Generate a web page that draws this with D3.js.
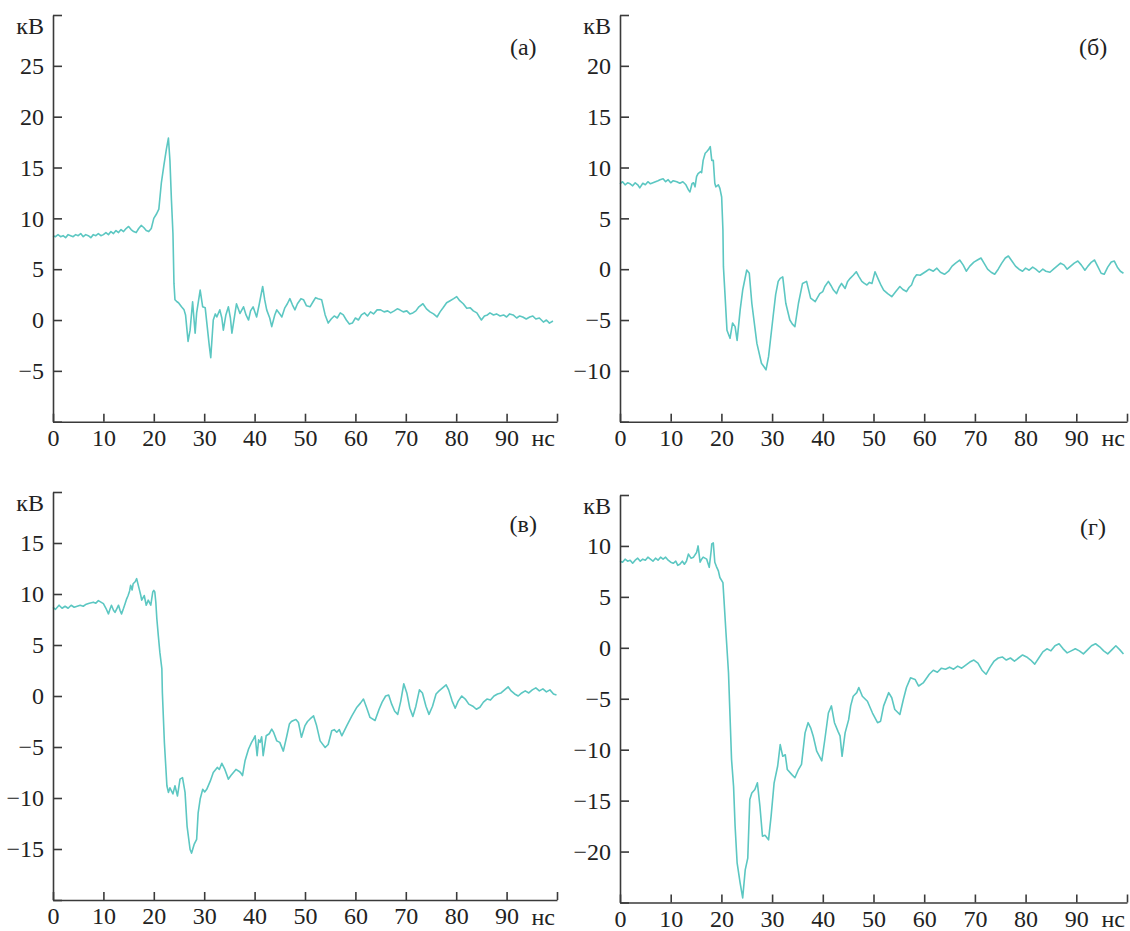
<!DOCTYPE html>
<html>
<head>
<meta charset="utf-8">
<script src="https://cdn.jsdelivr.net/npm/d3@7"></script>
<style>
  body { margin: 0; background: #fff; }
  svg { display: block; }
  text { font-family: "Liberation Serif", "Times New Roman", serif; fill: #222; }
</style>
</head>
<body>
<svg id="chart" width="1130" height="931"></svg>
<script>
// ---------------- DATA ----------------
const xTicks = [0, 10, 20, 30, 40, 50, 60, 70, 80, 90, 100];
const xUnit = "нс";
const yUnit = "кВ";
const panelLabels = ["(а)", "(б)", "(в)", "(г)"];

const yTicksA = [-10, -5, 0, 5, 10, 15, 20, 25, 30];
const yTicksB = [-15, -10, -5, 0, 5, 10, 15, 20, 25];
const yTicksC = [-20, -15, -10, -5, 0, 5, 10, 15, 20];
const yTicksD = [-25, -20, -15, -10, -5, 0, 5, 10, 15];

const tA = [0,0.5,1,1.5,2,2.5,3,3.5,4,4.5,5,5.5,6,6.5,7,7.5,8,8.5,9,9.5,10,10.5,11,11.5,12,12.5,13,13.5,14,14.5,15,15.5,16,16.5,17,17.5,18,18.5,19,19.5,20,20.5,21,21.5,22,22.5,22.9,23.2,23.5,23.8,24,24.2,24.6,24.9,25.5,26,26.3,26.8,27.2,27.7,28.2,28.5,29.2,29.7,30.2,30.6,31,31.3,31.8,32.2,32.5,33.1,33.5,33.8,34.3,34.8,35.2,35.5,36,36.4,37.1,37.8,38.3,38.8,39.2,39.7,40.4,40.9,41.6,42,42.4,43,43.4,44,44.4,45,45.4,46,46.5,47,47.5,48,48.5,49.2,49.7,50.3,51,51.6,52.1,52.6,53.3,54,54.6,55.2,55.8,56.4,57,57.6,58.2,58.8,59.4,60,60.6,61.2,61.8,62.4,63,63.6,64.3,65,65.7,66.4,67,67.7,68.3,68.8,69.5,70.2,70.8,71.4,72,72.6,73.4,74.1,74.8,75.5,76.2,76.8,77.4,78.1,78.8,79.5,80.1,80.7,81.4,82.1,82.8,83.4,84.1,84.6,85,85.6,86.2,86.7,87.4,88,88.7,89.4,90,90.6,91.3,92,92.6,93.2,93.9,94.6,95.2,95.8,96.5,97.3,97.9,98.5,99.2];
const vA = [8.3,8.2,8.4,8.2,8.3,8.1,8.4,8.3,8.2,8.4,8.3,8.5,8.2,8.4,8.3,8.1,8.4,8.3,8.5,8.3,8.4,8.6,8.4,8.7,8.5,8.8,8.6,8.9,8.7,9.0,9.2,8.9,8.7,8.6,9.0,9.3,9.1,8.8,8.7,9.0,10.0,10.4,10.9,13.5,15.2,16.8,17.9,15.7,11.8,8.5,3.6,2.0,1.8,1.7,1.3,1.0,0.5,-2.1,-1.0,1.8,-1.3,0.7,2.95,1.3,1.2,-0.65,-2.5,-3.7,0.0,0.6,0.3,1.0,0.2,-1.0,0.5,1.3,0.2,-1.3,0.3,1.6,0.65,1.3,0.5,0.0,0.9,1.3,0.3,1.5,3.3,2.0,1.0,0.2,-0.65,0.5,1.0,0.6,0.3,1.2,1.6,2.1,1.5,1.0,1.6,2.1,2.0,1.4,1.3,1.8,2.2,2.1,2.0,0.5,-0.3,0.1,0.4,0.2,0.7,0.5,0.0,-0.4,-0.3,0.2,0.0,0.5,0.7,0.4,0.8,0.6,1.0,1.0,0.8,0.9,0.7,0.9,1.1,1.0,0.8,0.9,0.6,0.7,0.9,1.3,1.6,1.1,0.8,0.6,0.3,0.8,1.2,1.7,1.9,2.1,2.3,1.9,1.6,1.15,1.2,0.9,0.7,0.3,0.0,0.4,0.5,0.7,0.5,0.6,0.4,0.5,0.3,0.6,0.5,0.2,0.4,0.3,0.1,0.3,0.4,0.1,0.2,-0.2,0.0,-0.3,-0.1];

const tB = [0,0.5,1,1.5,2,2.5,3,3.5,3.9,4.5,5,5.5,6,6.5,7,7.5,7.9,8.5,9,9.5,10,10.5,11.2,11.8,12.4,13,13.5,13.8,14.2,14.5,14.8,15.1,15.4,15.9,16.1,16.4,16.8,17.1,17.5,17.8,18.1,18.4,18.7,18.9,19.4,19.7,20.05,20.3,20.4,20.7,21.1,21.7,22.2,22.7,23.1,23.7,24.2,25,25.5,26,27,27.9,28.4,28.8,29.3,30.2,30.7,31.2,31.6,32.1,32.7,33.5,34,34.5,35.2,36,36.8,37.6,38.5,39.4,40,40.4,41.1,41.6,42.1,42.7,43.2,43.7,44.4,44.9,45.4,46,46.6,47.1,47.7,48.2,48.7,49.2,49.7,50.3,51,51.5,52,52.8,53.6,54.4,55.2,55.8,56.5,57,57.5,58,58.5,59.2,59.8,60.4,61,61.8,62.5,63.2,64,64.8,65.5,66.2,67,67.7,68.3,69,69.8,70.5,71.2,71.8,72.5,73.2,73.9,74.6,75.3,76,76.6,77.3,78,78.7,79.4,80,80.7,81.4,82,82.7,83.4,84,84.8,85.5,86.2,86.9,87.6,88.2,88.9,89.6,90.3,91,91.7,92.3,93,93.6,94.2,94.9,95.5,96.2,96.9,97.5,98.1,98.7,99.3];
const vB = [8.4,8.6,8.3,8.5,8.4,8.2,8.5,8.3,8.0,8.45,8.3,8.6,8.4,8.5,8.6,8.7,8.8,8.9,8.6,8.8,8.5,8.7,8.6,8.45,8.6,8.3,7.8,7.6,8.4,8.5,8.1,9.1,9.4,9.6,9.5,10.7,11.4,11.55,11.8,12.05,10.7,10.7,8.45,8.1,8.3,7.95,7.1,3.85,0.25,-2.4,-6.0,-6.8,-5.3,-5.65,-7.0,-4.0,-2.05,-0.08,-0.4,-3.35,-7.3,-9.25,-9.6,-9.9,-8.6,-4.65,-2.5,-1.2,-0.9,-0.75,-3.35,-5.0,-5.4,-5.65,-3.35,-1.4,-1.2,-2.85,-3.2,-2.4,-2.2,-1.7,-1.2,-1.6,-2.05,-2.4,-1.8,-1.4,-1.9,-1.2,-0.9,-0.6,-0.25,-0.7,-1.2,-1.4,-1.55,-1.3,-1.4,-0.25,-1.05,-1.6,-2.05,-2.4,-2.7,-2.2,-1.7,-2.0,-2.2,-1.8,-1.55,-0.9,-0.55,-0.6,-0.4,-0.2,0.0,-0.2,0.1,-0.3,-0.5,-0.2,0.3,0.6,0.9,0.4,-0.2,0.3,0.7,0.9,1.1,0.6,0.0,-0.3,-0.5,0.0,0.6,1.1,1.3,0.8,0.3,0.0,-0.2,0.1,-0.1,0.2,0.0,-0.3,0.0,-0.2,-0.3,0.0,0.3,0.6,0.4,0.0,0.3,0.6,0.8,0.4,-0.1,0.3,0.7,0.9,0.3,-0.4,-0.5,0.2,0.7,0.8,0.2,-0.2,-0.4];

const tC = [0,0.5,1.2,1.8,2.4,3,3.6,4.2,4.8,5.4,6,6.6,7.2,8,8.5,9,9.5,10,10.5,11,11.3,11.6,12,12.3,12.7,13,13.3,13.6,14,14.3,14.6,14.9,15.2,15.4,15.7,15.9,16.3,16.6,17.1,17.4,17.6,18.1,18.5,18.9,19.2,19.4,19.8,20,20.2,20.4,20.6,20.9,21.2,21.6,21.7,22.1,22.6,22.9,23.2,23.5,23.8,24.2,24.7,25.2,25.7,26.2,26.6,27.2,27.5,28,28.5,28.8,29.2,29.7,30.1,30.5,31.2,31.8,32.6,33,33.5,34.1,34.8,35.3,35.8,36.3,36.8,37.2,37.6,38.1,38.8,39.4,39.8,40.1,40.5,40.8,41.1,41.4,41.7,42.3,42.9,43.4,43.8,44.4,45,45.7,46.4,46.9,47.3,47.7,48.2,48.7,49.3,50,50.5,51,51.7,52.3,53,54,54.6,55.3,55.8,56.3,56.8,57.3,58.3,59.3,60.3,61,61.6,62.2,62.9,63.9,64.7,65.3,66,66.6,67.2,67.8,68.4,69,69.6,70.2,70.8,71.4,72,72.7,73.3,74,74.6,75.3,76,76.6,77.3,78,78.5,79.2,79.8,80.4,81.1,81.8,82.5,83.3,84,84.7,85.4,86.1,86.8,87.5,88.2,88.9,89.6,90.3,90.9,91.6,92.3,93,93.7,94.4,95.1,95.8,96.5,97.2,97.9,98.6,99.3,99.9];
const vC = [8.7,8.5,8.9,8.6,8.8,8.6,8.9,8.7,8.8,8.9,8.8,9.0,9.1,9.2,9.1,9.35,9.2,9.05,8.6,8.05,8.5,8.9,8.4,8.2,8.6,8.9,8.4,8.05,8.6,9.05,9.5,9.85,10.3,10.85,10.4,11.0,11.2,11.5,10.5,9.9,9.4,9.85,8.9,9.4,9.1,8.9,10.2,10.35,10.2,9.2,7.6,5.9,4.3,2.65,0.35,-4.55,-8.8,-9.45,-9.0,-9.3,-9.6,-8.8,-9.8,-8.15,-8.0,-9.45,-12.75,-15.05,-15.4,-14.55,-14.05,-11.45,-10.1,-9.15,-9.4,-9.15,-8.35,-7.5,-7.0,-7.2,-6.6,-7.2,-8.15,-7.8,-7.5,-7.2,-7.35,-7.5,-7.8,-6.35,-5.2,-4.55,-4.2,-3.9,-5.85,-4.3,-4.55,-4.0,-5.85,-3.9,-3.7,-3.25,-3.6,-4.4,-4.55,-5.4,-3.9,-2.75,-2.5,-2.4,-2.3,-2.6,-4.05,-2.9,-2.5,-2.25,-1.95,-2.9,-4.4,-5.05,-4.75,-3.4,-3.3,-3.55,-3.3,-3.9,-2.9,-1.95,-1.1,-0.7,-0.3,-1.1,-2.1,-2.4,-1.3,-0.6,0.0,0.1,-0.8,-1.5,-1.8,-0.5,1.2,0.3,-1.2,-2.0,-1.0,0.6,0.3,-1.0,-1.8,-1.0,0.2,0.5,0.8,1.1,0.6,-0.5,-1.2,-0.5,0.0,-0.3,-0.8,-1.0,-1.3,-1.1,-0.6,-0.3,-0.4,0.0,0.2,0.3,0.6,0.9,0.5,0.2,0.0,0.3,0.5,0.3,0.6,0.8,0.5,0.7,0.4,0.6,0.2,0.1];

const tD = [0,0.5,1,1.5,2,2.5,3,3.5,4,4.5,5,5.5,6,6.5,7,7.5,8,8.5,9,9.5,10,10.5,11,11.4,11.8,12.3,12.7,13.1,13.5,14,14.5,15.1,15.4,15.8,16.1,16.4,17.1,17.6,18,18.1,18.4,18.7,19,19.4,19.7,20.3,20.5,20.9,21.4,21.7,22,22.4,22.7,23.1,23.7,24.2,24.7,25.2,25.6,26,26.6,27.1,27.6,28.1,28.6,29.3,29.8,30.4,31.1,31.6,32.1,32.6,33,33.9,34.5,35.2,35.8,36.5,37.1,37.6,38.1,38.8,39.8,40.4,41.1,41.7,42.3,43,43.4,43.8,44.4,45.1,45.5,46,46.7,47.1,47.8,48.8,49.8,50.8,51.4,52,53,53.6,54.2,55.2,55.9,56.5,57.3,58.2,58.9,59.8,61,61.8,62.6,63.4,64.2,65,65.8,66.6,67.4,68.2,69,69.8,70.6,71.4,72.2,73,73.8,74.6,75.4,76.2,77,77.8,78.6,79.4,80.2,81,81.8,82.6,83.4,84.2,85,85.8,86.6,87.4,88.2,89,89.8,90.6,91.4,92.2,93,93.8,94.6,95.4,96.2,97,97.8,98.6,99.3];
const vD = [8.5,8.4,8.7,8.5,8.6,8.3,8.6,8.8,8.5,8.7,8.6,8.9,8.7,8.5,8.8,8.6,8.9,8.7,8.9,8.6,8.4,8.3,8.5,8.1,8.2,8.5,8.2,8.5,9.2,8.8,8.9,9.35,10.0,8.4,8.7,8.9,8.7,7.9,9.6,10.2,10.3,8.4,8.0,7.55,6.9,6.4,4.8,1.5,-2.45,-6.7,-10.95,-13.6,-17.5,-21.1,-23.1,-24.55,-21.8,-20.65,-14.9,-14.25,-13.9,-13.25,-15.55,-18.5,-18.4,-18.85,-16.55,-13.25,-11.6,-9.5,-10.65,-10.5,-11.95,-12.45,-12.75,-11.95,-11.45,-8.35,-7.35,-7.85,-8.65,-10.15,-11.1,-9.0,-6.4,-5.7,-7.35,-8.2,-8.65,-10.65,-8.35,-7.05,-5.7,-4.75,-4.4,-3.9,-4.75,-5.25,-6.4,-7.35,-7.2,-5.7,-4.4,-4.9,-6.05,-6.55,-5.05,-3.9,-2.95,-3.1,-3.75,-3.45,-2.6,-2.2,-2.4,-2.0,-2.1,-1.9,-2.1,-1.8,-2.0,-1.7,-1.4,-1.2,-1.5,-2.2,-2.6,-1.9,-1.3,-1.0,-0.9,-1.2,-1.0,-1.3,-1.0,-0.7,-0.9,-1.2,-1.6,-1.0,-0.4,-0.1,-0.3,0.2,0.4,-0.1,-0.5,-0.3,-0.1,-0.3,-0.6,-0.2,0.2,0.4,0.1,-0.3,-0.6,-0.2,0.2,-0.2,-0.6];

// ---------------- LAYOUT ----------------
const panels = [
  { t: tA, v: vA, yTicks: yTicksA, label: panelLabels[0], left: 53,  right: 557,  top: 15,  bottom: 421.7 },
  { t: tB, v: vB, yTicks: yTicksB, label: panelLabels[1], left: 620, right: 1127, top: 15,  bottom: 421.7 },
  { t: tC, v: vC, yTicks: yTicksC, label: panelLabels[2], left: 53,  right: 557,  top: 492, bottom: 900 },
  { t: tD, v: vD, yTicks: yTicksD, label: panelLabels[3], left: 620, right: 1127, top: 495, bottom: 902.5 }
];

const svg = d3.select("#chart");
const axisColor = "#3a3a3a";
const lineColor = "#5cc7c2";
const fontSize = 24;

panels.forEach(p => {
  const x = d3.scaleLinear().domain([0, 100]).range([p.left, p.right]);
  const yMin = p.yTicks[0], yMax = p.yTicks[p.yTicks.length - 1];
  const y = d3.scaleLinear().domain([yMin, yMax]).range([p.bottom, p.top]);
  const g = svg.append("g");

  // trace
  const line = d3.line().x((d, i) => x(p.t[i])).y(d => y(d));
  g.append("path")
    .attr("d", line(p.v))
    .attr("fill", "none")
    .attr("stroke", lineColor)
    .attr("stroke-width", 1.6)
    .attr("stroke-linejoin", "round");

  // y axis
  const yAxis = d3.axisLeft(y)
    .tickValues(p.yTicks)
    .tickSizeInner(-9)
    .tickSizeOuter(0)
    .tickPadding(9)
    .tickFormat(d => (d === yMin || d === yMax) ? "" : (d < 0 ? "\u2212" + Math.abs(d) : String(d)));
  const ya = g.append("g").attr("transform", `translate(${p.left},0)`).call(yAxis);

  // x axis
  const xAxis = d3.axisBottom(x)
    .tickValues(xTicks)
    .tickSizeInner(-8)
    .tickSizeOuter(0)
    .tickPadding(7)
    .tickFormat(d => d === 100 ? "" : String(d));
  const xa = g.append("g").attr("transform", `translate(0,${p.bottom})`).call(xAxis);

  [ya, xa].forEach(a => {
    a.selectAll("path.domain").attr("stroke", axisColor).attr("stroke-width", 1.6);
    a.selectAll(".tick line").attr("stroke", axisColor).attr("stroke-width", 1.6);
    a.selectAll("text")
      .attr("font-family", "\"Liberation Serif\", \"Times New Roman\", serif")
      .attr("font-size", fontSize).attr("fill", "#222");
  });

  // units
  g.append("text")
    .attr("x", p.left - 9).attr("y", p.top + 19)
    .attr("text-anchor", "end")
    .attr("font-size", fontSize)
    .text(yUnit);
  g.append("text")
    .attr("x", x(100) - 2).attr("y", p.bottom + 24.5)
    .attr("text-anchor", "end")
    .attr("font-size", fontSize)
    .text(xUnit);

  // panel label
  g.append("text")
    .attr("x", x(93.3)).attr("y", p.top + 40)
    .attr("text-anchor", "middle")
    .attr("font-size", fontSize)
    .text(p.label);
});
</script>
</body>
</html>
